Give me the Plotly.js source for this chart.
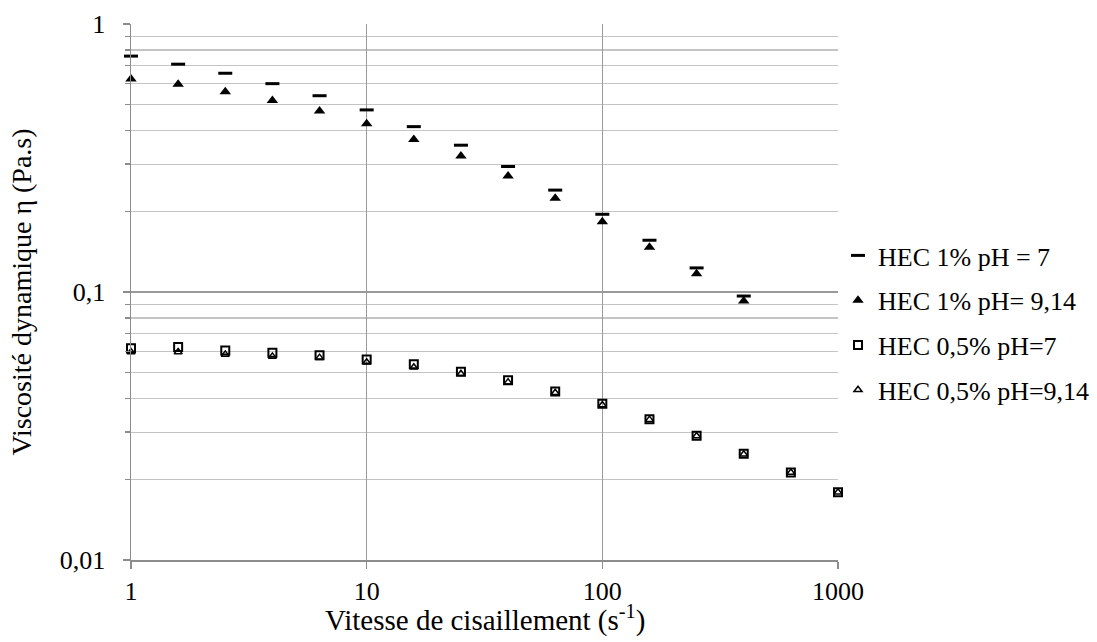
<!DOCTYPE html>
<html>
<head>
<meta charset="utf-8">
<script src="https://cdn.plot.ly/plotly-3.0.1.min.js"></script>
<style>html,body{margin:0;padding:0;background:#fff;}#chart{width:1097px;height:642px;}</style>
</head>
<body>
<div id="chart"></div>
<script>
const shearRate = [1, 1.585, 2.512, 3.981, 6.31, 10, 15.85, 25.12, 39.81, 63.1, 100, 158.5, 251.2, 398.1, 631, 1000];

const hec1_ph7    = [0.759, 0.708, 0.655, 0.599, 0.540, 0.478, 0.414, 0.353, 0.294, 0.240, 0.195, 0.156, 0.123, 0.0966];
const hec1_ph914  = [0.624, 0.596, 0.559, 0.518, 0.474, 0.424, 0.371, 0.322, 0.271, 0.224, 0.183, 0.147, 0.117, 0.0926];
const hec05_ph7   = [0.0617, 0.0623, 0.0605, 0.0594, 0.0581, 0.0560, 0.0537, 0.0504, 0.0468, 0.0425, 0.0383, 0.0335, 0.0291, 0.0249, 0.0212, 0.0179];
const hec05_ph914 = [0.0597, 0.0597, 0.0585, 0.0575, 0.0569, 0.0547, 0.0524, 0.0495, 0.0461, 0.0421, 0.0379, 0.0334, 0.0290, 0.0248, 0.0212, 0.0179];

const seriesNames = ['HEC 1% pH = 7', 'HEC 1% pH= 9,14', 'HEC 0,5% pH=7', 'HEC 0,5% pH=9,14'];
const xTitle = 'Vitesse de cisaillement (s<sup>-1</sup>)';
const yTitle = 'Viscosité dynamique η (Pa.s)';

const xTickVals = [1, 10, 100, 1000];
const xTickText = ['1', '10', '100', '1000'];
const yTickVals = [0.01, 0.1, 1];
const yTickText = ['0,01', '0,1', '1'];

// minor grid positions (2..9 of each decade)
const yMinor = [];
[0.01, 0.1].forEach(d => { for (let k = 2; k <= 9; k++) yMinor.push(+(d * k).toPrecision(3)); });

const FONT = 'Liberation Serif, Times New Roman, serif';

const traces = [
  {x: shearRate.slice(0, hec1_ph7.length), y: hec1_ph7, name: seriesNames[0], legendgroup: 'a',
   mode: 'markers', type: 'scatter', cliponaxis: false,
   marker: {symbol: 'line-ew', size: 10, color: '#000', line: {color: '#000', width: 3}}},
  {x: shearRate.slice(0, hec1_ph914.length), y: hec1_ph914, name: seriesNames[1], legendgroup: 'b',
   mode: 'markers', type: 'scatter', cliponaxis: false,
   marker: {symbol: 'triangle-up', size: 10, color: '#000', line: {width: 0}}},
  {x: shearRate, y: hec05_ph7, name: seriesNames[2], legendgroup: 'c',
   mode: 'markers', type: 'scatter', cliponaxis: false,
   marker: {symbol: 'square-open', size: 8, color: '#000', line: {color: '#000', width: 2}}},
  {x: shearRate, y: hec05_ph914, name: seriesNames[3], legendgroup: 'd',
   mode: 'markers', type: 'scatter', cliponaxis: false,
   marker: {symbol: 'triangle-up-open', size: 7, color: '#000', line: {color: '#000', width: 1.5}}}
];

const layout = {
  width: 1097, height: 642,
  margin: {l: 131, r: 258, t: 24, b: 82},
  paper_bgcolor: '#fff', plot_bgcolor: '#fff',
  font: {family: FONT, color: '#000', size: 26},
  showlegend: true,
  legend: {xref: 'container', yref: 'container',
           x: 838 / 1097, xanchor: 'left', y: 1 - 232 / 642, yanchor: 'top',
           font: {family: FONT, size: 26, color: '#000'},
           tracegroupgap: 8, itemwidth: 30, bgcolor: 'rgba(0,0,0,0)', borderwidth: 0},
  xaxis: {
    type: 'log', range: [0, 3], automargin: false,
    tickmode: 'array', tickvals: xTickVals, ticktext: xTickText,
    ticks: 'outside', ticklen: 7, tickcolor: '#8c8c8c', tickwidth: 1.5,
    ticklabelstandoff: 0,
    showgrid: true, gridcolor: '#9a9a9a', gridwidth: 1.5,
    showline: true, linecolor: '#8c8c8c', linewidth: 1.5,
    zeroline: false, mirror: false,
    tickfont: {family: FONT, size: 26, color: '#000'},
    title: {text: ''}
  },
  yaxis: {
    type: 'log', range: [-2, 0], automargin: false,
    tickmode: 'array', tickvals: yTickVals, ticktext: yTickText,
    ticks: 'outside', ticklen: 7, tickcolor: '#8c8c8c', tickwidth: 1.5,
    ticklabelstandoff: 12,
    showgrid: true, gridcolor: '#9a9a9a', gridwidth: 1.5,
    showline: true, linecolor: '#8c8c8c', linewidth: 1.5,
    zeroline: false,
    minor: {tickmode: 'array', tickvals: yMinor, showgrid: true, gridcolor: '#c4c4c4', gridwidth: 1.2,
            ticks: 'outside', ticklen: 5, tickcolor: '#8c8c8c'},
    tickfont: {family: FONT, size: 26, color: '#000'},
    title: {text: yTitle, font: {family: FONT, size: 28, color: '#000'}, standoff: 20}
  },
  annotations: [
    {text: xTitle, xref: 'paper', yref: 'paper', x: 0.5, y: -(618 - 560) / 536,
     xanchor: 'center', yanchor: 'middle', showarrow: false,
     font: {family: FONT, size: 29, color: '#000'}}
  ]
};

Plotly.newPlot('chart', traces, layout, {displayModeBar: false, staticPlot: true});
</script>
</body>
</html>
